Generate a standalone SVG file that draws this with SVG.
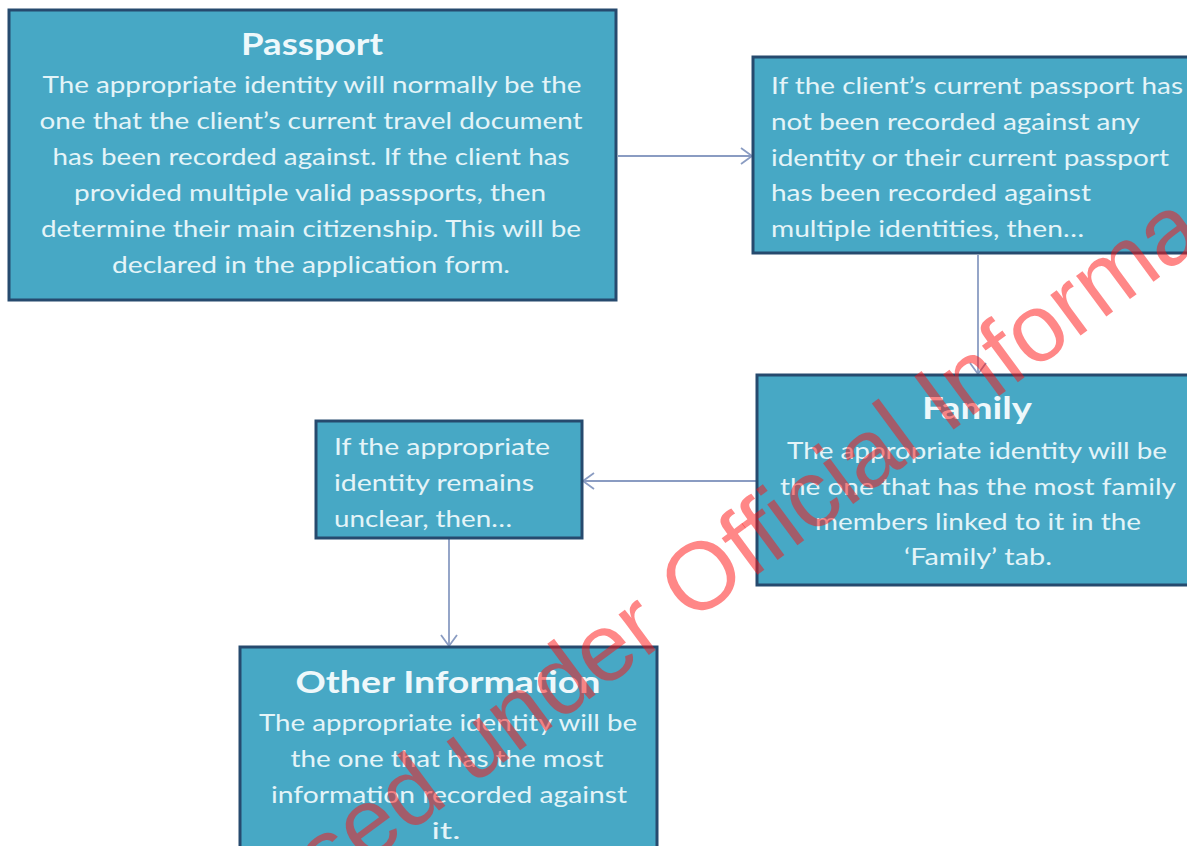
<svg xmlns="http://www.w3.org/2000/svg" width="1187" height="846" viewBox="0 0 1187 846">
<defs>
<marker id="arr" markerUnits="userSpaceOnUse" markerWidth="20" markerHeight="20" refX="12" refY="9" orient="auto">
<path d="M1,1 L12,9 L1,17" fill="none" stroke="#8a9cc2" stroke-width="1.8"/>
</marker>
<style>
.box{fill:#47a8c5;stroke:#264a6e;stroke-width:3}
.t{font-family:Lato,"Open Sans","Liberation Sans",sans-serif;font-size:24px;fill:#e4f4f8}
.h{font-family:Lato,"Open Sans","Liberation Sans",sans-serif;font-size:31px;font-weight:bold;fill:#eef8fb}
.c{text-anchor:middle}
.conn{stroke:#8a9cc2;stroke-width:1.8;fill:none;marker-end:url(#arr)}
.wm{font-family:"Liberation Sans",Arial,sans-serif;font-size:96px;fill:#ff1010;fill-opacity:0.5}
</style>
</defs>
<rect width="1187" height="846" fill="#ffffff"/>
<g id="connectors">
<line class="conn" x1="618" y1="156" x2="752" y2="156"/>
<line class="conn" x1="978" y1="255" x2="978" y2="374"/>
<line class="conn" x1="756" y1="481" x2="583" y2="481"/>
<line class="conn" x1="449" y1="539" x2="449" y2="646"/>
</g>
<g id="passport">
<rect class="box" x="9" y="10" width="607" height="290"/>
<text class="h c" x="312" y="55" textLength="142" lengthAdjust="spacingAndGlyphs">Passport</text>
<text class="t c" x="312" y="93" textLength="539" lengthAdjust="spacingAndGlyphs">The appropriate identity will normally be the</text>
<text class="t c" x="311" y="129" textLength="543" lengthAdjust="spacingAndGlyphs">one that the client’s current travel document</text>
<text class="t c" x="311" y="165" textLength="517" lengthAdjust="spacingAndGlyphs">has been recorded against. If the client has</text>
<text class="t c" x="310" y="201" textLength="472" lengthAdjust="spacingAndGlyphs">provided multiple valid passports, then</text>
<text class="t c" x="311" y="237" textLength="540" lengthAdjust="spacingAndGlyphs">determine their main citizenship. This will be</text>
<text class="t c" x="311" y="273" textLength="398" lengthAdjust="spacingAndGlyphs">declared in the application form.</text>
</g>
<g id="passport-unclear">
<rect class="box" x="753" y="57" width="445" height="196"/>
<text class="t" x="771" y="94" textLength="412" lengthAdjust="spacingAndGlyphs">If the client’s current passport has</text>
<text class="t" x="771" y="130" textLength="369" lengthAdjust="spacingAndGlyphs">not been recorded against any</text>
<text class="t" x="771" y="166" textLength="398" lengthAdjust="spacingAndGlyphs">identity or their current passport</text>
<text class="t" x="771" y="201" textLength="320" lengthAdjust="spacingAndGlyphs">has been recorded against</text>
<text class="t" x="771" y="237" textLength="313" lengthAdjust="spacingAndGlyphs">multiple identities, then…</text>
</g>
<g id="family">
<rect class="box" x="757" y="375" width="441" height="210"/>
<text class="h c" x="977" y="419" textLength="110" lengthAdjust="spacingAndGlyphs">Family</text>
<text class="t c" x="977" y="459" textLength="380" lengthAdjust="spacingAndGlyphs">The appropriate identity will be</text>
<text class="t c" x="978" y="495" textLength="396" lengthAdjust="spacingAndGlyphs">the one that has the most family</text>
<text class="t c" x="978" y="530" textLength="326" lengthAdjust="spacingAndGlyphs">members linked to it in the</text>
<text class="t c" x="978" y="565" textLength="148" lengthAdjust="spacingAndGlyphs">‘Family’ tab.</text>
</g>
<g id="family-unclear">
<rect class="box" x="316" y="421" width="266" height="117"/>
<text class="t" x="334" y="455" textLength="216" lengthAdjust="spacingAndGlyphs">If the appropriate</text>
<text class="t" x="334" y="491" textLength="200" lengthAdjust="spacingAndGlyphs">identity remains</text>
<text class="t" x="334" y="527" textLength="178" lengthAdjust="spacingAndGlyphs">unclear, then…</text>
</g>
<g id="other-information">
<rect class="box" x="240" y="647" width="417" height="210"/>
<text class="h c" x="448" y="693" textLength="305" lengthAdjust="spacingAndGlyphs">Other Information</text>
<text class="t c" x="448" y="731" textLength="378" lengthAdjust="spacingAndGlyphs">The appropriate identity will be</text>
<text class="t c" x="447" y="767" textLength="313" lengthAdjust="spacingAndGlyphs">the one that has the most</text>
<text class="t c" x="449" y="803" textLength="356" lengthAdjust="spacingAndGlyphs">information recorded against</text>
<text class="t c" x="446" y="839" textLength="29" lengthAdjust="spacingAndGlyphs">it.</text>
</g>
<text class="wm" transform="translate(326,894) rotate(-36.5)">sed under Official Informa</text>
</svg>
